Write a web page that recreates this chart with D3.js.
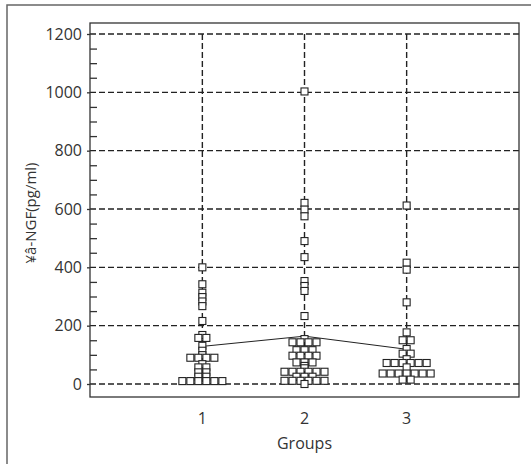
<!DOCTYPE html>
<html>
<head>
<meta charset="utf-8">
<script src="https://cdn.jsdelivr.net/npm/d3@7"></script>
<style>
    body { margin: 0; background: #fff; }
    text { font-family: "Open Sans", sans-serif; fill: #333; }
</style>
</head>
<body>
<div id="chart"></div>
<script>
var groupNames = [1, 2, 3];

var group1 = [400, 342, 313, 298, 283, 267, 216, 168, 158, 158, 131, 114, 99,
    90, 90, 90, 90, 68, 57, 57, 40, 40, 25, 25, 10, 10, 10, 10, 10, 10];

var group2 = [1003, 621, 598, 575, 490, 435, 353, 336, 319, 233, 154,
    143, 143, 143, 143, 116, 116, 116, 97, 97, 97, 97, 74, 74, 74, 62, 54,
    42, 42, 42, 42, 42, 42, 25, 25, 25, 11, 11, 11, 11, 11, 11, 0];

var group3 = [612, 416, 392, 280, 177, 150, 150, 120, 104, 104, 85,
    72, 72, 72, 72, 72, 72, 57, 36, 36, 36, 36, 36, 36, 36, 15, 15];

var groupMeans = [129, 164, 119];

var yMajorTicks = [0, 200, 400, 600, 800, 1000, 1200];

var W = 531, H = 464;
var margin = { top: 23, right: 12, bottom: 67, left: 90 };
var width = W - margin.left - margin.right,
    height = H - margin.top - margin.bottom;

var svg = d3.select("#chart").append("svg")
    .attr("width", W)
    .attr("height", H);

// outer frame (cut off at right/bottom like the source image)
svg.append("rect")
    .attr("x", 7).attr("y", 5)
    .attr("width", 540).attr("height", 480)
    .attr("fill", "none")
    .attr("stroke", "#666")
    .attr("stroke-width", 1.5);

var g = svg.append("g")
    .attr("transform", "translate(" + margin.left + "," + margin.top + ")");

var x = d3.scaleLinear()
    .domain([-0.1, 4.1])
    .range([0, width]);

var y = d3.scaleLinear()
    .domain([0, 1200])
    .range([361, 11]);

var dash = "6,3";

// horizontal grid
g.selectAll(".hgrid")
    .data(yMajorTicks)
    .enter().append("line")
    .attr("class", "hgrid")
    .attr("x1", 0).attr("x2", width)
    .attr("y1", function(d) { return y(d); })
    .attr("y2", function(d) { return y(d); })
    .attr("stroke", "#222")
    .attr("stroke-width", 1.4)
    .attr("stroke-dasharray", dash);

// vertical grid at each group
g.selectAll(".vgrid")
    .data(groupNames)
    .enter().append("line")
    .attr("class", "vgrid")
    .attr("x1", function(d) { return x(d); })
    .attr("x2", function(d) { return x(d); })
    .attr("y1", y(1200)).attr("y2", y(0))
    .attr("stroke", "#222")
    .attr("stroke-width", 1.4)
    .attr("stroke-dasharray", dash);

// plot box
g.append("rect")
    .attr("width", width)
    .attr("height", height)
    .attr("fill", "none")
    .attr("stroke", "#333")
    .attr("stroke-width", 1.3);

// y axis - major ticks with labels
var yAxis = d3.axisLeft(y)
    .tickValues(yMajorTicks)
    .tickFormat(d3.format("d"))
    .tickSize(3)
    .tickPadding(5);

var ya = g.append("g").call(yAxis);
ya.select(".domain").remove();
ya.selectAll("line").attr("stroke", "#333").attr("stroke-width", 1.3);
ya.selectAll("text")
    .style("font-family", "'Open Sans', sans-serif")
    .style("font-size", "16px")
    .attr("fill", "#333");

// minor ticks, pointing inwards
var minorTicks = d3.range(0, 1201, 50).filter(function(v) { return v % 200 !== 0; });
var ym = g.append("g").call(d3.axisLeft(y).tickValues(minorTicks).tickSize(-7).tickFormat(""));
ym.select(".domain").remove();
ym.selectAll("line").attr("stroke", "#333").attr("stroke-width", 1.3);

// x labels (no tick marks)
g.selectAll(".xlab")
    .data(groupNames)
    .enter().append("text")
    .attr("class", "xlab")
    .attr("x", function(d) { return x(d); })
    .attr("y", height + 27)
    .attr("text-anchor", "middle")
    .style("font-size", "16px")
    .text(function(d) { return d; });

g.append("text")
    .attr("x", width / 2)
    .attr("y", height + 52)
    .attr("text-anchor", "middle")
    .style("font-size", "16px")
    .text("Groups");

svg.append("text")
    .attr("transform", "translate(36,213) rotate(-90)")
    .attr("text-anchor", "middle")
    .style("font-size", "15px")
    .text("¥â-NGF(pg/ml)");

// mean line
var meanLine = d3.line()
    .x(function(d, i) { return x(groupNames[i]); })
    .y(function(d) { return y(d); });

g.append("path")
    .attr("d", meanLine(groupMeans))
    .attr("fill", "none")
    .attr("stroke", "#222")
    .attr("stroke-width", 1);

// dot plot: equal values spread side by side
var box = 7, step = 8;
var groups = [group1, group2, group3];

groups.forEach(function(vals, gi) {
    var pts = [];
    d3.group(vals, function(v) { return v; }).forEach(function(arr, v) {
        var n = arr.length;
        arr.forEach(function(a, k) {
            pts.push({ v: v, off: (k - (n - 1) / 2) * step });
        });
    });
    g.selectAll(".pt" + gi)
        .data(pts)
        .enter().append("rect")
        .attr("class", "pt" + gi)
        .attr("x", function(d) { return x(groupNames[gi]) + d.off - box / 2; })
        .attr("y", function(d) { return y(d.v) - box / 2; })
        .attr("width", box)
        .attr("height", box)
        .attr("fill", "#fff")
        .attr("stroke", "#222")
        .attr("stroke-width", 1.1);
});
</script>
</body>
</html>
